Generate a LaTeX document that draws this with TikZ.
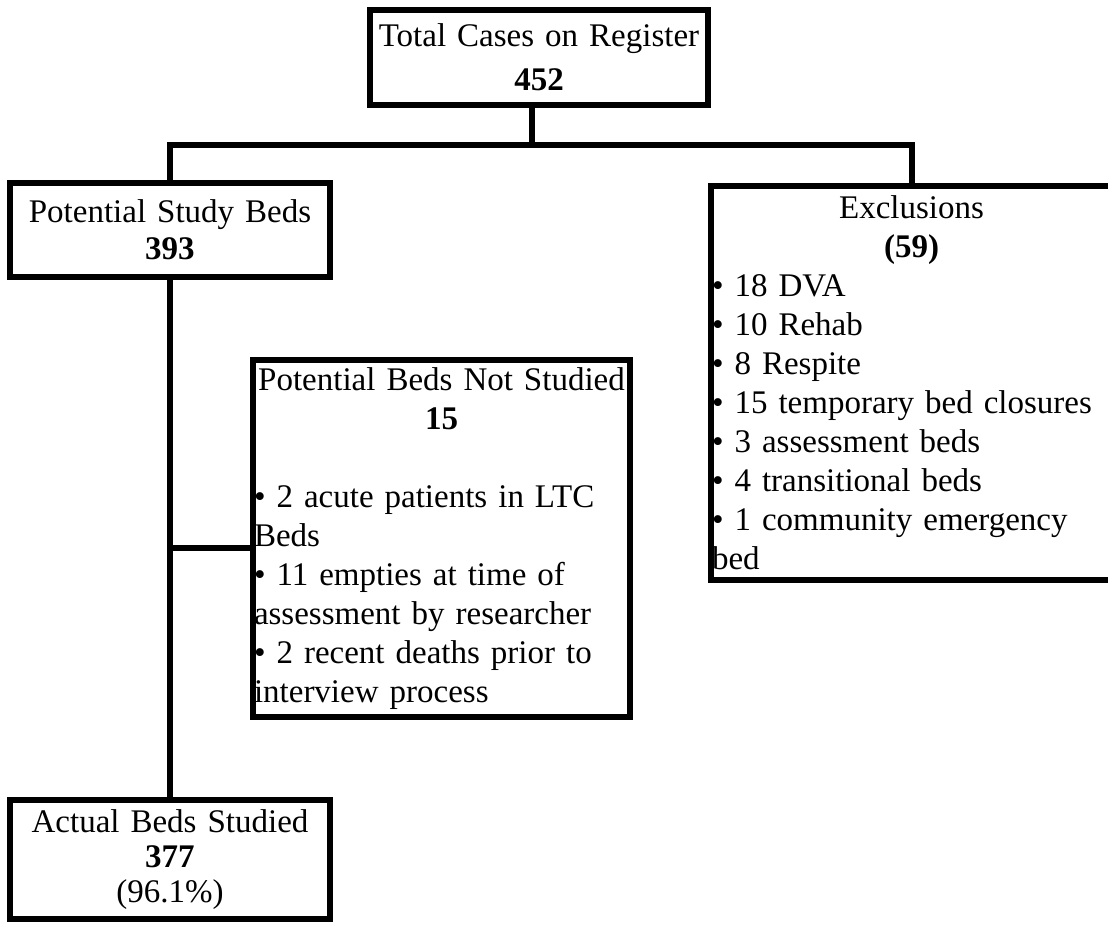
\documentclass[tikz,border=0pt]{standalone}
\usepackage{fontspec}
\setmainfont{Liberation Serif}
\tikzset{
    box/.style={draw, line width=6pt, inner sep=0pt, align=center},
    listbox/.style={draw, line width=6pt, inner xsep=1pt, inner ysep=0pt, align=left},
}
\begin{document}
\begin{tikzpicture}[x=1pt, y=-1pt, line width=6pt, font=\fontsize{33}{39}\selectfont]
    \path[use as bounding box, fill=white] (0,0) rectangle (1108,932);

    % Boxes
    \node[box, minimum width=338pt, minimum height=95pt, text width=330pt,
        font=\fontsize{33}{44}\selectfont] (tot) at (539,57.5)
        {Total Cases on Register\\\textbf{452}};
    \node[box, minimum width=320pt, minimum height=94pt, text width=310pt,
        font=\fontsize{33}{37}\selectfont] (pot) at (170,230)
        {Potential Study Beds\\\textbf{393}};
    \node[listbox, minimum width=401pt, minimum height=394pt, text width=399pt] (exc) at (911.5,383)
        {\makebox[\linewidth]{Exclusions}\\
         \makebox[\linewidth]{\textbf{(59)}}\\
         \textbullet\ 18 DVA\\
         \textbullet\ 10 Rehab\\
         \textbullet\ 8 Respite\\
         \textbullet\ 15 temporary bed closures\\
         \textbullet\ 3 assessment beds\\
         \textbullet\ 4 transitional beds\\
         \textbullet\ 1 community emergency\\
         bed};
    \node[listbox, minimum width=377pt, minimum height=357pt, text width=375pt] (notst) at (441.5,538.5)
        {\makebox[\linewidth]{Potential Beds Not Studied}\\
         \makebox[\linewidth]{\textbf{15}}\\[39pt]
         \textbullet\ 2 acute patients in LTC\\
         Beds\\
         \textbullet\ 11 empties at time of\\
         assessment by researcher\\
         \textbullet\ 2 recent deaths prior to\\
         interview process};
    \node[box, minimum width=320pt, minimum height=119pt, text width=310pt,
        font=\fontsize{33}{35}\selectfont] (act) at (170,859.5)
        {Actual Beds Studied\\\textbf{377}\\(96.1\%)};

    % Connectors
    \coordinate (fork) at (532,145);
    \draw (tot.south -| fork) -- (fork);
    \draw (pot.north) |- (fork) -| (exc.north);
    \draw (pot.south) -- (act.north);
    \coordinate (tee) at ([yshift=-9.5pt]notst.west);
    \draw (tee) -- (tee -| pot.south);
\end{tikzpicture}
\end{document}
